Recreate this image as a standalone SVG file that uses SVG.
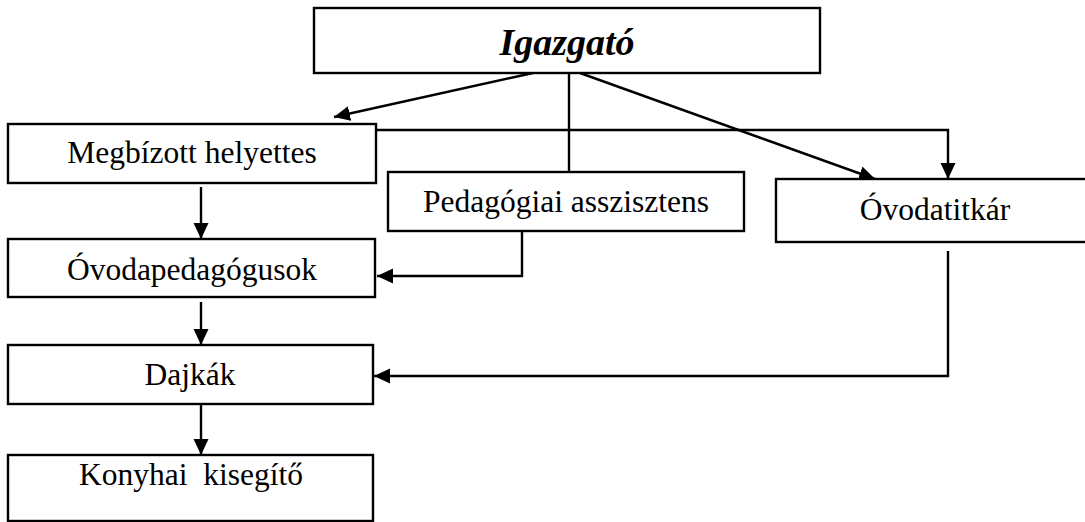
<svg xmlns="http://www.w3.org/2000/svg" width="1085" height="522" viewBox="0 0 1085 522">
<style>
.box{fill:#fff;stroke:#000;stroke-width:2.4}
.lbl{font-family:"Liberation Serif","Times New Roman",serif;font-size:31.5px;fill:#000;text-anchor:middle}
.title{font-family:"Liberation Serif","Times New Roman",serif;font-size:38px;font-weight:bold;font-style:italic;fill:#000;text-anchor:middle}
.con{fill:none;stroke:#000;stroke-width:2.4}
.arr{marker-end:url(#ah)}
</style>
<defs>
<marker id="ah" markerUnits="userSpaceOnUse" markerWidth="18" markerHeight="16" refX="16" refY="7.5" orient="auto">
<path d="M0,0 L16,7.5 L0,15 Z" fill="#000"/>
</marker>
</defs>
<rect width="1085" height="522" fill="#fff"/>
<g id="connectors">
<line class="con arr" x1="533" y1="73" x2="334" y2="117"/>
<line class="con" x1="569" y1="73" x2="569" y2="172"/>
<line class="con arr" x1="580" y1="73" x2="875" y2="179"/>
<polyline class="con arr" points="376,130 948,130 948,179"/>
<line class="con arr" x1="201" y1="187" x2="201" y2="239"/>
<polyline class="con arr" points="522,231 522,276 377,276"/>
<line class="con arr" x1="201" y1="302" x2="201" y2="345"/>
<polyline class="con arr" points="948,251 948,376 374,376"/>
<line class="con arr" x1="201" y1="404" x2="201" y2="455"/>
</g>
<g id="igazgato">
<rect class="box" x="314" y="8" width="506" height="65"/>
<text class="title" x="567" y="55">Igazgató</text>
</g>
<g id="megbizott">
<rect class="box" x="8" y="124" width="368" height="59"/>
<text class="lbl" x="192" y="163">Megbízott helyettes</text>
</g>
<g id="pedasszisztens">
<rect class="box" x="388" y="172" width="356" height="59"/>
<text class="lbl" x="566" y="212">Pedagógiai asszisztens</text>
</g>
<g id="ovodatitkar">
<rect class="box" x="776" y="179" width="320" height="63"/>
<text class="lbl" x="935" y="220">Óvodatitkár</text>
</g>
<g id="ovodapedagogusok">
<rect class="box" x="8" y="239" width="367" height="58"/>
<text class="lbl" x="192" y="280">Óvodapedagógusok</text>
</g>
<g id="dajkak">
<rect class="box" x="8" y="345" width="365" height="59"/>
<text class="lbl" x="190" y="385">Dajkák</text>
</g>
<g id="konyhai">
<rect class="box" x="8" y="455" width="365" height="66"/>
<text class="lbl" x="191" y="485" xml:space="preserve">Konyhai  kisegítő</text>
</g>
</svg>
